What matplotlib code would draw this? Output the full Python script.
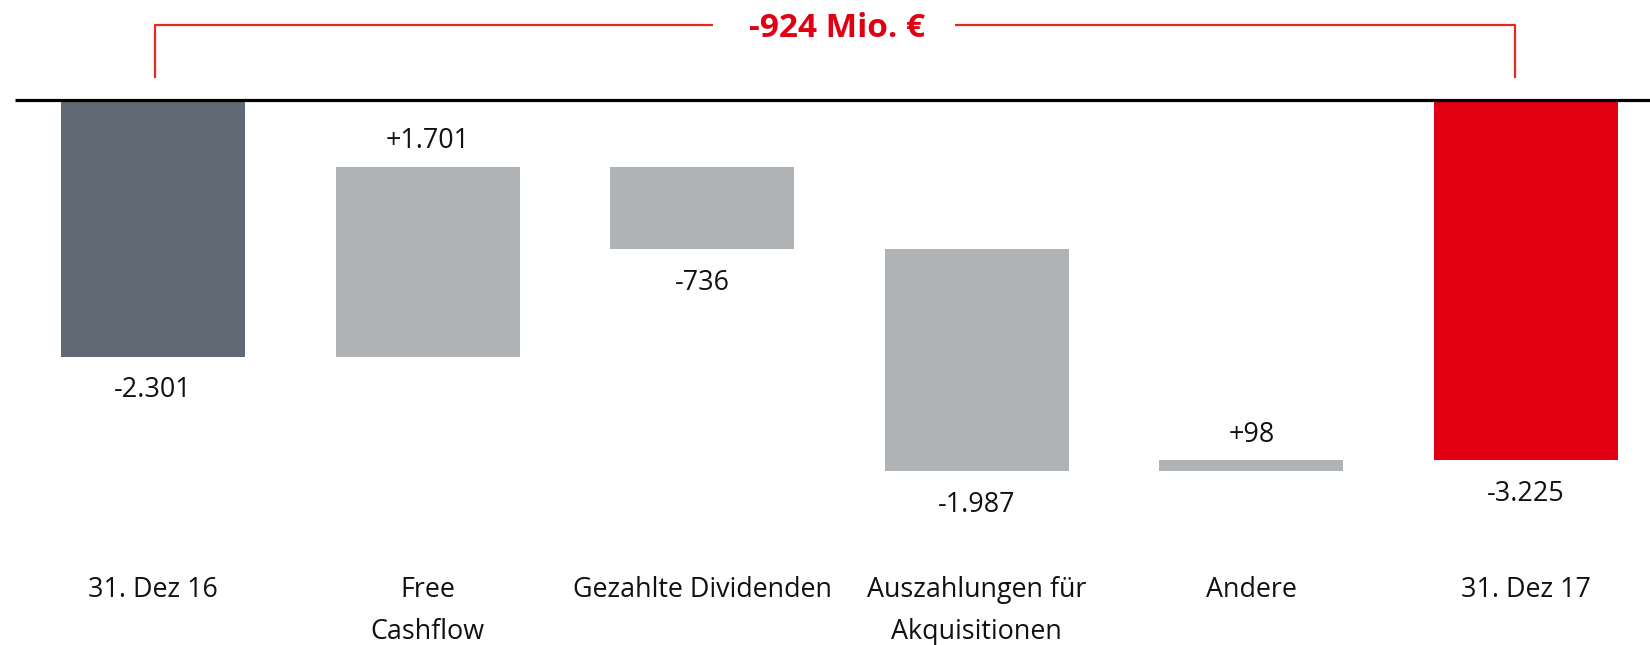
import matplotlib
matplotlib.use("Agg")
import matplotlib.pyplot as plt

plt.rcParams['font.family'] = ['Open Sans', 'DejaVu Sans']

categories = ["31. Dez 16", "Free\nCashflow", "Gezahlte Dividenden",
              "Auszahlungen für\nAkquisitionen", "Andere", "31. Dez 17"]
values = [-2301, 1701, -736, -1987, 98, -3225]
value_labels = ["-2.301", "+1.701", "-736", "-1.987", "+98", "-3.225"]
is_total = [True, False, False, False, False, True]
change_label = "-924 Mio. €"

col_start = "#5f6a74"
col_delta = "#afb3b6"
col_end = "#e10012"
col_bracket = "#e8291c"

fig = plt.figure(figsize=(16.5, 6.45), dpi=100)
ax = fig.add_axes([0, 0, 1, 1])
ax.set_xlim(-0.557, 5.452)
ax.set_ylim(-4879, 895)
ax.axis('off')

fs = 19.4
running = 0
for i, (v, tot) in enumerate(zip(values, is_total)):
    if tot:
        bottom, height = 0, v
        running = v
        color = col_start if i == 0 else col_end
    else:
        bottom, height = running, v
        running += v
        color = col_delta
    ax.bar(i, height, bottom=bottom, width=0.67, color=color, linewidth=0, zorder=2)
    top = max(bottom, bottom + height)
    low = min(bottom, bottom + height)
    if (not tot) and v > 0:
        ax.annotate(value_labels[i], (i, top), xytext=(0, 18.5), textcoords='offset points',
                    ha='center', va='center', fontsize=fs, color='#111111')
    else:
        ax.annotate(value_labels[i], (i, low), xytext=(0, -24), textcoords='offset points',
                    ha='center', va='center', fontsize=fs, color='#111111')
    ax.text(i, -4262, categories[i], ha='center', va='top', fontsize=fs,
            color='#111111', linespacing=1.64)

# baseline
ax.plot([-0.503, 5.452], [0, 0], color='black', lw=2.3, zorder=3, solid_capstyle='butt')

# bracket
yb, yv = 671, 197
xl, xr = 0.007, 4.96
ax.plot([xl, xl, 2.04], [yv, yb, yb], color=col_bracket, lw=1.6, solid_capstyle='butt')
ax.plot([2.92, xr, xr], [yb, yb, yv], color=col_bracket, lw=1.6, solid_capstyle='butt')
ax.text(2.49, yb - 30, change_label, ha='center', va='center', fontsize=24,
        fontweight='bold', color=col_end)

fig.savefig("out.png", dpi=100)
